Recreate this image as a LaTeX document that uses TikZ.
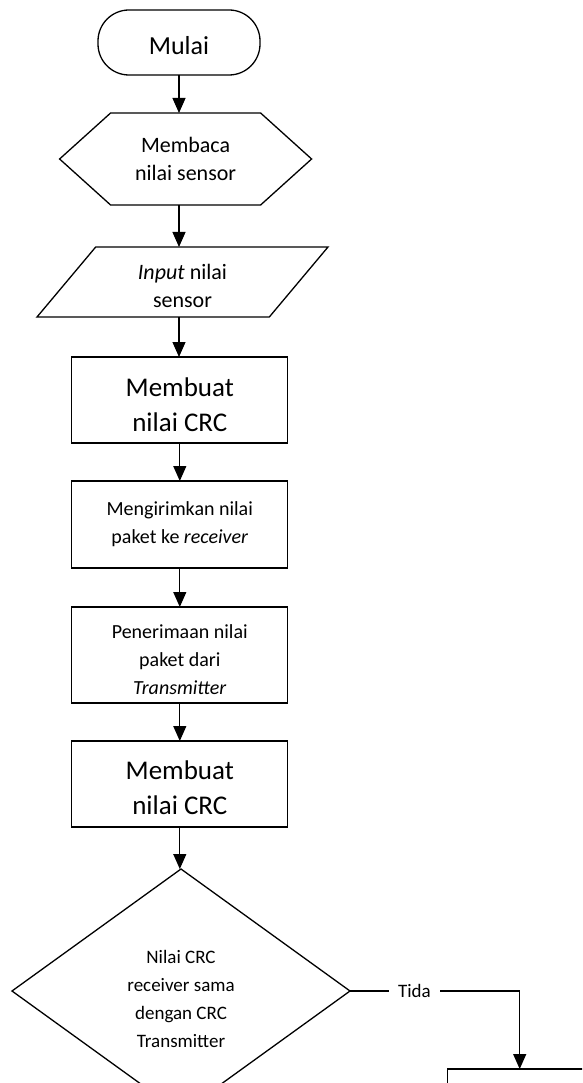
\documentclass[tikz,border=0pt]{standalone}
\usepackage{fontspec}
\setmainfont{Carlito}
\usetikzlibrary{arrows.meta,calc,shapes.geometric}
\newcommand{\fsz}[2]{\fontsize{#1}{#2}\selectfont}
% invisible strut to push the first line down a little
\newcommand{\topgap}[1]{\rule{0pt}{#1}}
\tikzset{
  >={Triangle[length=15pt,width=13pt]},
}

\begin{document}
\begin{tikzpicture}[x=1pt, y=-1pt, line width=1.3pt,
  arr/.style={->, line width=1.2pt},
  box/.style={draw, minimum width=216pt, align=center, outer sep=0pt},
  frame/.style={minimum width=#1, align=center, outer sep=0pt},
  tlabel/.style={fill=white, inner xsep=9pt, font=\fsz{19}{23}}
]

%--- Page ---
\useasboundingbox (0,0) rectangle (582,1083);
\clip (0,0) rectangle (582,1083);

%--- Start ---
\node[draw, rounded corners=31pt, minimum width=162pt, minimum height=65pt,
  outer sep=0pt, font=\fsz{26}{30}] (mulai) at (179,42.5) {\topgap{25pt}Mulai};

%--- Preparation (hexagon) ---
\node[frame=252pt, minimum height=92pt, font=\fsz{22}{28}] (baca) at (185.6,159)
  {Membaca\\nilai sensor};
\draw (baca.west) -- ($(baca.north west)+(51,0)$) -- ($(baca.north east)+(-51,0)$)
  -- (baca.east) -- ($(baca.south east)+(-51,0)$) -- ($(baca.south west)+(51,0)$) -- cycle;

%--- Input (parallelogram) ---
\node[frame=291pt, minimum height=70pt, font=\fsz{22}{28}] (input) at (182.5,282)
  {\topgap{24pt}\textit{Input} nilai\\sensor};
\draw (input.south west) -- ($(input.north west)+(58.7,0)$) -- (input.north east)
  -- ($(input.south east)+(-58.7,0)$) -- cycle;

%--- Process boxes ---
\node[box, minimum height=86pt, font=\fsz{27}{35}] (crc1) at (179.8,400)
  {\topgap{28.4pt}Membuat\\nilai CRC};
\node[box, minimum height=87pt, font=\fsz{20}{28}] (kirim) at (179.8,524.5)
  {Mengirimkan nilai\\paket ke \textit{receiver}};
\node[box, minimum height=96pt, font=\fsz{20}{28}] (terima) at (179.8,655)
  {\topgap{22.6pt}Penerimaan nilai\\paket dari\\\textit{Transmitter}};
\node[box, minimum height=86pt, font=\fsz{27}{35}] (crc2) at (179.8,784)
  {\topgap{25.5pt}Membuat\\nilai CRC};

%--- Decision ---
\node[draw, diamond, aspect=1.4, minimum width=338pt, minimum height=244pt,
  align=center, outer sep=0pt, font=\fsz{19}{28}] (cek) at (181,991)
  {\topgap{28.6pt}Nilai CRC\\receiver sama\\dengan CRC\\Transmitter};

% box reached on the "Tida" branch
\node[box, minimum width=145pt, minimum height=80pt] (ulang) at (519.7,1109) {};

%--- Connectors ---
\draw[arr] (mulai.south) -- (mulai.south |- baca.north);
\draw[arr] (baca.south -| mulai.south) -- (mulai.south |- input.north);
\draw[arr] (input.south -| mulai.south) -- (mulai.south |- crc1.north);
\draw[arr] (crc1.south) -- (kirim.north);
\draw[arr] (kirim.south) -- (terima.north);
\draw[arr] (terima.south) -- (crc2.north);
\draw[arr] (crc2.south) -- (crc2.south |- cek.north);
\draw[arr] (cek.east) -| node[pos=0.19, tlabel] {Tida} (ulang.north);

\end{tikzpicture}
\end{document}
